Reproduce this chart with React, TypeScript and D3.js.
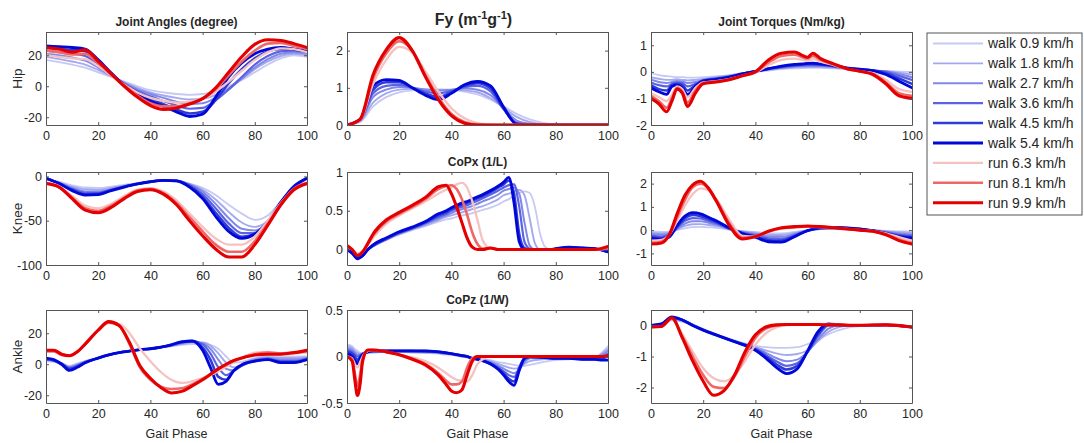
import { useRef, useEffect } from 'react';
import * as d3 from 'd3';

// series order: walk 0.9 .. 5.4, run 6.3 .. 9.9
const seriesLabels = [
  'walk 0.9 km/h',
  'walk 1.8 km/h',
  'walk 2.7 km/h',
  'walk 3.6 km/h',
  'walk 4.5 km/h',
  'walk 5.4 km/h',
  'run 6.3 km/h',
  'run 8.1 km/h',
  'run 9.9 km/h',
];
const seriesColors = ['#c6c9f3', '#a4a9ee', '#8088e8', '#5b63e2', '#2f3ad9', '#0008d8', '#f5c2c2', '#ee6868', '#e40000'];
const seriesWidths = [1.8, 1.9, 2, 2.2, 2.5, 2.8, 2.3, 2.6, 3.1];

const xTicks = [0, 20, 40, 60, 80, 100];

// Hip joint angle (degree)
const hipAngleX = [0, 5, 10, 15, 20, 25, 30, 35, 40, 45, 50, 55, 60, 65, 70, 75, 80, 85, 90, 95, 100];
const hipAngleY = [
  [17, 15.5, 14, 12, 9, 6, 3, 0, -2.5, -4, -5, -5.5, -5, -3, 0, 4, 9, 14, 18, 20, 19],
  [19, 17.5, 16, 14, 10.5, 6.5, 2.5, -1, -4, -6, -7.5, -8.5, -8, -5.5, -1, 4.5, 11, 16, 19.5, 21, 20],
  [21, 20, 18.5, 16.5, 12, 7, 2, -2, -5, -7.5, -10, -11.5, -11, -7.5, -2, 5, 12, 17.5, 21, 22, 21],
  [23, 22, 21, 19.5, 14, 7.5, 1.5, -3, -6.5, -9.5, -12.5, -14.5, -14, -9, -2, 6, 14, 19.5, 22.5, 23, 22],
  [25, 24, 23.5, 22.5, 16, 8, 1, -4, -8, -11.5, -15, -17.5, -16.5, -9, 2, 11, 18, 22.5, 24, 24, 22.5],
  [26, 25.5, 25, 24, 17, 8.5, 0.5, -5, -9.5, -13, -16.5, -19.5, -18, -7, 6, 15, 21, 24, 25, 24, 22.5],
  [20, 19, 18, 17.5, 13, 7, 1, -4, -7.5, -9.5, -10.5, -10, -8, -3.5, 3, 10, 17, 22, 24.5, 24, 22],
  [23, 22, 20.5, 21, 15, 7.5, 0.5, -6, -11, -13, -13, -11, -8, -2, 7, 16, 23, 27.5, 28, 26, 24],
  [25, 24, 22, 23.5, 16, 8, 0, -7, -12.5, -15, -14, -11.5, -8, -1, 9, 19, 27, 30, 29.5, 27.5, 25],
];

// Vertical ground reaction force Fy
const fyX = [0, 5, 10, 15, 20, 25, 30, 35, 40, 45, 50, 55, 60, 65, 70, 75, 80, 85, 90, 95, 100];
const fyY = [
  [0, 0.08, 0.5, 0.75, 0.88, 0.93, 0.95, 0.95, 0.94, 0.9, 0.82, 0.68, 0.5, 0.3, 0.15, 0.06, 0.02, 0, 0, 0, 0],
  [0, 0.1, 0.6, 0.85, 0.95, 0.97, 0.96, 0.95, 0.95, 0.93, 0.88, 0.72, 0.47, 0.22, 0.08, 0.02, 0, 0, 0, 0, 0],
  [0, 0.12, 0.75, 0.95, 1.02, 1.0, 0.95, 0.92, 0.95, 0.98, 0.95, 0.8, 0.45, 0.12, 0.03, 0, 0, 0, 0, 0, 0],
  [0, 0.13, 0.85, 1.05, 1.08, 1.0, 0.9, 0.85, 0.92, 1.02, 1.05, 0.9, 0.42, 0.06, 0.01, 0, 0, 0, 0, 0, 0],
  [0, 0.14, 0.95, 1.15, 1.15, 1.0, 0.85, 0.75, 0.88, 1.05, 1.12, 0.98, 0.45, 0.03, 0, 0, 0, 0, 0, 0, 0],
  [0, 0.15, 1.05, 1.22, 1.2, 1.0, 0.8, 0.68, 0.85, 1.08, 1.17, 1.05, 0.48, 0.02, 0, 0, 0, 0, 0, 0, 0],
  [0, 0.13, 1.1, 1.75, 2.1, 1.95, 1.45, 0.9, 0.45, 0.18, 0.05, 0.01, 0, 0, 0, 0, 0, 0, 0, 0, 0],
  [0, 0.14, 1.25, 1.92, 2.25, 2.0, 1.35, 0.75, 0.3, 0.08, 0.01, 0, 0, 0, 0, 0, 0, 0, 0, 0, 0],
  [0, 0.15, 1.35, 2.02, 2.35, 2.0, 1.3, 0.68, 0.25, 0.05, 0, 0, 0, 0, 0, 0, 0, 0, 0, 0, 0],
];

// Hip joint torque (Nm/kg)
const hipTorqueX = [0, 3, 6, 8, 10, 12, 14, 17, 20, 25, 30, 35, 40, 45, 50, 55, 58, 60, 62, 65, 70, 75, 80, 85, 90, 95, 100];
const hipTorqueY = [
  [-0.05, -0.12, -0.16, -0.18, -0.2, -0.2, -0.22, -0.22, -0.2, -0.17, -0.12, -0.05, 0.0, 0.05, 0.1, 0.13, 0.14, 0.15, 0.15, 0.15, 0.13, 0.1, 0.07, 0.05, 0.03, 0.01, 0.0],
  [-0.2, -0.26, -0.3, -0.3, -0.28, -0.3, -0.32, -0.3, -0.27, -0.2, -0.14, -0.05, 0.02, 0.08, 0.13, 0.17, 0.18, 0.18, 0.18, 0.18, 0.16, 0.1, 0.07, 0.05, 0.02, -0.03, -0.1],
  [-0.3, -0.38, -0.42, -0.38, -0.34, -0.36, -0.42, -0.38, -0.3, -0.23, -0.16, -0.06, 0.02, 0.1, 0.15, 0.2, 0.22, 0.22, 0.22, 0.22, 0.18, 0.12, 0.08, 0.05, 0.02, -0.08, -0.2],
  [-0.4, -0.5, -0.55, -0.45, -0.4, -0.42, -0.55, -0.45, -0.32, -0.25, -0.18, -0.07, 0.02, 0.1, 0.18, 0.22, 0.25, 0.26, 0.26, 0.25, 0.2, 0.13, 0.08, 0.05, 0, -0.15, -0.3],
  [-0.5, -0.65, -0.7, -0.5, -0.45, -0.5, -0.7, -0.5, -0.33, -0.27, -0.2, -0.08, 0.02, 0.12, 0.2, 0.26, 0.28, 0.3, 0.3, 0.28, 0.22, 0.14, 0.1, 0.05, -0.05, -0.25, -0.45],
  [-0.6, -0.75, -0.85, -0.55, -0.5, -0.6, -0.85, -0.55, -0.35, -0.28, -0.2, -0.08, 0.02, 0.12, 0.22, 0.28, 0.3, 0.32, 0.33, 0.3, 0.25, 0.15, 0.1, 0.05, -0.1, -0.35, -0.6],
  [-0.8, -0.95, -1.1, -0.85, -0.55, -0.65, -0.95, -0.6, -0.4, -0.35, -0.27, -0.15, -0.02, 0.25, 0.45, 0.5, 0.45, 0.42, 0.48, 0.38, 0.25, 0.1, 0.02, -0.05, -0.3, -0.65, -0.75],
  [-0.9, -1.1, -1.35, -1.0, -0.6, -0.75, -1.15, -0.7, -0.42, -0.36, -0.28, -0.15, 0.0, 0.35, 0.6, 0.65, 0.55, 0.5, 0.6, 0.45, 0.28, 0.12, 0.02, -0.08, -0.4, -0.8, -0.9],
  [-1.0, -1.2, -1.5, -1.1, -0.65, -0.8, -1.3, -0.8, -0.45, -0.38, -0.3, -0.15, 0.0, 0.45, 0.7, 0.75, 0.62, 0.55, 0.7, 0.5, 0.3, 0.12, 0.02, -0.1, -0.45, -0.9, -1.0],
];

// Knee joint angle (degree)
const kneeAngleX = [0, 5, 10, 15, 20, 25, 30, 35, 40, 45, 50, 55, 60, 65, 70, 75, 80, 85, 90, 95, 100];
const kneeAngleY = [
  [-3, -6, -10, -12.5, -13, -11.5, -9.5, -7.5, -6, -5, -5.5, -8, -13, -21, -32, -42, -49, -44, -28, -12, -3],
  [-3, -7, -11.5, -14.5, -15, -13, -10.5, -8, -6, -5, -5.5, -8.5, -15, -26, -40, -52, -57, -50, -32, -13, -3],
  [-2.5, -7, -13, -17, -17, -14.5, -11, -8.5, -6, -4.5, -5, -9, -17, -31, -47, -59, -61, -52, -32, -13, -2.5],
  [-2, -7.5, -14, -18.5, -18.5, -15, -11.5, -8.5, -6, -4.5, -5, -10, -20, -36, -53, -64, -64, -53, -31, -12, -2],
  [-2, -8, -15, -20, -19.5, -15.5, -11.5, -8.5, -6, -4.5, -5, -11, -23, -41, -58, -68, -65, -52, -30, -12, -2],
  [-2, -8, -16, -21, -20.5, -16, -12, -8.5, -6, -4.5, -5, -12, -25, -45, -62, -70, -65, -51, -29, -11, -2],
  [-7, -11, -22, -33, -36, -31, -22, -15, -13.5, -17, -27, -42, -57, -70, -77, -77, -68, -50, -30, -14, -7],
  [-7.5, -12, -24, -36, -39, -33, -24, -16, -14, -19, -30, -46, -62, -77, -85, -85, -73, -53, -31, -14, -7.5],
  [-8, -12, -25, -38, -41, -35, -25, -17, -15, -20, -32, -50, -67, -82, -91, -91, -77, -55, -32, -15, -8],
];

// Centre of pressure, anterior-posterior (1/L)
const copxX = [0, 2, 4, 6, 8, 10, 15, 20, 25, 30, 35, 38, 40, 42, 44, 46, 48, 50, 52, 55, 58, 60, 62, 64, 66, 68, 70, 72, 74, 76, 78, 80, 85, 90, 95, 100];
const copxY = [
  [0.03, 0.0, -0.06, -0.04, 0.0, 0.04, 0.12, 0.19, 0.25, 0.3, 0.36, 0.39, 0.4, 0.42, 0.44, 0.45, 0.47, 0.49, 0.51, 0.54, 0.58, 0.62, 0.65, 0.7, 0.73, 0.75, 0.73, 0.55, 0.2, 0.03, 0, 0, 0.01, 0.01, 0, -0.01],
  [0.02, -0.01, -0.08, -0.05, 0.0, 0.04, 0.13, 0.2, 0.26, 0.31, 0.38, 0.42, 0.44, 0.46, 0.48, 0.5, 0.52, 0.54, 0.56, 0.6, 0.65, 0.7, 0.72, 0.75, 0.77, 0.7, 0.4, 0.08, 0, 0, 0, 0, 0.01, 0.02, 0.01, -0.02],
  [0.01, -0.02, -0.09, -0.06, 0.0, 0.05, 0.13, 0.21, 0.27, 0.33, 0.4, 0.44, 0.47, 0.5, 0.52, 0.54, 0.56, 0.59, 0.62, 0.66, 0.71, 0.76, 0.78, 0.8, 0.72, 0.35, 0.05, 0, 0, 0, 0, 0.01, 0.02, 0.02, 0.01, -0.02],
  [0, -0.03, -0.1, -0.07, 0.0, 0.05, 0.13, 0.21, 0.27, 0.34, 0.42, 0.46, 0.5, 0.53, 0.55, 0.57, 0.6, 0.63, 0.66, 0.71, 0.76, 0.8, 0.83, 0.84, 0.55, 0.1, 0.01, 0, 0, 0, 0, 0.01, 0.02, 0.02, 0.01, -0.03],
  [0, -0.04, -0.11, -0.08, 0.0, 0.05, 0.14, 0.22, 0.28, 0.35, 0.44, 0.48, 0.52, 0.55, 0.58, 0.6, 0.63, 0.66, 0.69, 0.74, 0.8, 0.84, 0.89, 0.72, 0.2, 0.02, 0, 0, 0, 0, 0, 0.01, 0.03, 0.02, 0.01, -0.03],
  [0, -0.05, -0.12, -0.08, 0.0, 0.06, 0.15, 0.23, 0.29, 0.36, 0.46, 0.5, 0.54, 0.57, 0.6, 0.62, 0.65, 0.68, 0.71, 0.76, 0.82, 0.87, 0.93, 0.6, 0.1, 0.0, 0, 0, 0, 0, 0, 0.01, 0.03, 0.02, 0.01, -0.03],
  [0.03, 0.0, -0.05, -0.02, 0.06, 0.15, 0.33, 0.44, 0.53, 0.62, 0.72, 0.77, 0.8, 0.84, 0.86, 0.8, 0.62, 0.38, 0.12, 0.01, 0, 0, 0, 0, 0, 0, 0, 0, 0, 0, 0, 0, 0, 0, 0, 0.01],
  [0.04, 0.0, -0.07, -0.03, 0.07, 0.18, 0.36, 0.46, 0.55, 0.65, 0.78, 0.82, 0.83, 0.78, 0.65, 0.45, 0.22, 0.07, 0.01, 0.02, 0, 0, 0, 0, 0, 0, 0, 0, 0, 0, 0, 0, 0, 0, 0, 0.02],
  [0.05, 0.0, -0.08, -0.03, 0.08, 0.2, 0.38, 0.48, 0.57, 0.67, 0.81, 0.83, 0.72, 0.55, 0.35, 0.15, 0.03, 0, 0, 0.02, 0, 0, 0, 0, 0, 0, 0, 0, 0, 0, 0, 0, 0, 0, 0, 0.04],
];

// Knee joint torque (Nm/kg)
const kneeTorqueX = [0, 4, 7, 10, 13, 16, 19, 22, 25, 30, 35, 40, 45, 50, 55, 60, 65, 70, 75, 80, 85, 90, 95, 100];
const kneeTorqueY = [
  [-0.06, -0.08, -0.06, 0.0, 0.08, 0.13, 0.14, 0.12, 0.1, 0.02, -0.04, -0.08, -0.13, -0.14, -0.08, 0.0, 0.04, 0.05, 0.04, 0.02, 0, -0.03, -0.05, -0.06],
  [-0.12, -0.14, -0.1, 0.03, 0.18, 0.25, 0.26, 0.22, 0.17, 0.04, -0.06, -0.12, -0.2, -0.21, -0.12, -0.01, 0.05, 0.06, 0.05, 0.03, -0.01, -0.05, -0.09, -0.12],
  [-0.18, -0.2, -0.15, 0.05, 0.28, 0.38, 0.38, 0.32, 0.24, 0.05, -0.08, -0.17, -0.27, -0.29, -0.17, -0.02, 0.06, 0.08, 0.07, 0.04, -0.01, -0.07, -0.14, -0.18],
  [-0.25, -0.28, -0.2, 0.1, 0.4, 0.52, 0.5, 0.4, 0.3, 0.06, -0.1, -0.22, -0.35, -0.37, -0.22, -0.02, 0.08, 0.1, 0.08, 0.04, -0.02, -0.1, -0.2, -0.25],
  [-0.3, -0.35, -0.25, 0.15, 0.5, 0.65, 0.6, 0.48, 0.35, 0.08, -0.13, -0.27, -0.43, -0.45, -0.26, -0.02, 0.09, 0.11, 0.09, 0.05, -0.02, -0.13, -0.24, -0.3],
  [-0.35, -0.4, -0.3, 0.2, 0.6, 0.75, 0.7, 0.55, 0.4, 0.1, -0.15, -0.3, -0.5, -0.52, -0.28, -0.02, 0.1, 0.12, 0.1, 0.05, -0.03, -0.15, -0.28, -0.35],
  [-0.45, -0.42, -0.2, 0.4, 1.05, 1.55, 1.8, 1.7, 1.35, 0.45, -0.25, -0.28, -0.08, 0.06, 0.11, 0.14, 0.13, 0.1, 0.05, 0, -0.04, -0.14, -0.3, -0.45],
  [-0.55, -0.5, -0.2, 0.55, 1.3, 1.85, 2.0, 1.8, 1.3, 0.3, -0.33, -0.28, -0.05, 0.08, 0.13, 0.16, 0.14, 0.1, 0.05, 0, -0.05, -0.18, -0.4, -0.55],
  [-0.6, -0.55, -0.2, 0.7, 1.5, 1.95, 2.1, 1.8, 1.25, 0.2, -0.38, -0.28, -0.05, 0.1, 0.15, 0.18, 0.15, 0.1, 0.05, 0, -0.05, -0.2, -0.45, -0.6],
];

// Ankle joint angle (degree)
const ankleAngleX = [0, 3, 6, 9, 12, 15, 20, 24, 28, 32, 36, 40, 44, 48, 52, 56, 60, 63, 66, 69, 72, 76, 80, 85, 90, 95, 100];
const ankleAngleY = [
  [2, 1.5, 0.5, -1, 0.5, 2, 4, 6, 7.5, 8.5, 9.5, 10, 11, 11.5, 12.5, 13, 13, 12.5, 10, 5, 1, 2, 4, 5, 5, 5, 5],
  [2.5, 2, 0.5, -1.5, 0, 2, 4, 6, 7.5, 8.5, 9.5, 10, 11, 12, 13, 14, 14, 12, 7, 1, -2, 1, 3.5, 4.5, 4, 4, 4.5],
  [3, 2, 0.5, -2, -0.5, 1.5, 4, 6, 7.5, 8.5, 9.5, 10, 11, 12, 13.5, 14.5, 13.5, 10, 3, -3, -4, 0.5, 3, 4, 3, 3, 4],
  [3, 2.5, 0.5, -2.5, -1, 1.5, 4, 6, 7.5, 8.5, 9.5, 10, 11, 12.5, 14, 15, 13, 7, -2, -7, -4, 0.5, 2.5, 3.5, 2, 2, 3.5],
  [3.5, 2.5, 0, -3, -1.5, 1, 4, 6, 7.5, 8.5, 9.5, 10, 11, 12.5, 14.5, 15, 11, 3, -8, -10, -4, 0, 2, 3, 1.5, 1.5, 3],
  [4, 3, 0, -4, -2, 1, 4, 6, 7.5, 8.5, 9.5, 10, 11, 12.5, 14.5, 15, 9, -2, -13, -11, -4, 0.5, 2, 3, 1, 1, 3],
  [8, 8, 6, 5.5, 8, 13, 21.5, 26.5, 26, 20, 10, 2, -5, -10, -12, -11, -9, -7, -4.5, -1.5, 1.5, 5, 7.5, 8, 7, 7, 7.5],
  [8.5, 8.5, 6, 5.5, 8, 13, 22, 27, 25, 13, -2, -10, -14.5, -16, -15.5, -13, -9.5, -6.5, -3, -0.5, 2, 4.5, 6.5, 7.5, 7, 7.5, 8.5],
  [9, 9, 6.5, 5.5, 8, 13, 22, 27.5, 25, 14, -1, -9, -15, -18.5, -17.5, -14, -10, -6.5, -3, 0, 2.5, 4.5, 6, 6.5, 6.5, 7.5, 9],
];

// Centre of pressure, medio-lateral (1/W)
const copzX = [0, 2, 3, 4, 5, 6, 8, 10, 15, 20, 25, 30, 35, 38, 40, 42, 44, 46, 48, 50, 55, 58, 60, 62, 64, 66, 68, 70, 75, 80, 85, 90, 95, 98, 100];
const copzY = [
  [0.13, 0.11, 0.08, 0.06, 0.04, 0.03, 0.04, 0.04, 0.05, 0.05, 0.04, 0.04, 0.03, 0.02, 0.02, 0.01, 0.0, -0.01, -0.02, -0.03, -0.04, -0.06, -0.07, -0.08, -0.09, -0.1, -0.1, -0.09, -0.06, -0.04, -0.03, -0.02, -0.01, 0.05, 0.11],
  [0.11, 0.09, 0.06, 0.04, 0.03, 0.03, 0.04, 0.05, 0.05, 0.05, 0.05, 0.04, 0.04, 0.03, 0.02, 0.01, 0.0, -0.01, -0.02, -0.03, -0.05, -0.08, -0.1, -0.12, -0.13, -0.12, -0.08, -0.05, -0.03, -0.02, -0.02, -0.02, -0.01, 0.04, 0.08],
  [0.09, 0.07, 0.04, 0.02, 0.02, 0.03, 0.05, 0.05, 0.06, 0.06, 0.05, 0.05, 0.04, 0.03, 0.03, 0.02, 0.01, 0.0, -0.02, -0.03, -0.06, -0.1, -0.13, -0.16, -0.18, -0.14, -0.06, -0.02, -0.01, -0.02, -0.02, -0.02, -0.01, 0.02, 0.06],
  [0.07, 0.05, 0.02, 0.0, 0.01, 0.03, 0.05, 0.06, 0.06, 0.06, 0.06, 0.05, 0.05, 0.04, 0.03, 0.02, 0.01, 0.0, -0.02, -0.03, -0.07, -0.12, -0.16, -0.2, -0.22, -0.13, -0.03, -0.01, -0.01, -0.02, -0.02, -0.02, -0.02, 0.0, 0.03],
  [0.05, 0.03, 0.0, -0.04, 0.0, 0.03, 0.05, 0.06, 0.06, 0.06, 0.06, 0.06, 0.05, 0.04, 0.03, 0.02, 0.01, 0.0, -0.02, -0.03, -0.08, -0.13, -0.18, -0.24, -0.27, -0.12, -0.02, 0.0, -0.01, -0.02, -0.02, -0.03, -0.03, -0.02, 0.0],
  [0.03, 0.0, -0.04, -0.08, -0.02, 0.02, 0.05, 0.06, 0.06, 0.06, 0.06, 0.06, 0.05, 0.04, 0.03, 0.02, 0.01, 0.0, -0.02, -0.03, -0.08, -0.14, -0.2, -0.27, -0.31, -0.15, -0.02, 0.0, -0.01, -0.02, -0.02, -0.03, -0.03, -0.04, -0.04],
  [0.0, -0.02, -0.08, -0.12, -0.06, 0.0, 0.06, 0.07, 0.05, 0.02, -0.01, -0.05, -0.12, -0.18, -0.22, -0.25, -0.26, -0.27, -0.2, -0.08, 0, 0, 0, 0, 0, 0, 0, 0, 0, 0, 0, 0, 0, 0, 0.01],
  [0.0, -0.03, -0.18, -0.32, -0.2, -0.02, 0.07, 0.07, 0.05, 0.02, -0.02, -0.08, -0.18, -0.26, -0.3, -0.3, -0.27, -0.12, -0.02, 0.0, 0, 0, 0, 0, 0, 0, 0, 0, 0, 0, 0, 0, 0, 0, 0.01],
  [0.0, -0.05, -0.25, -0.42, -0.3, -0.05, 0.07, 0.07, 0.05, 0.02, -0.03, -0.09, -0.2, -0.3, -0.37, -0.39, -0.36, -0.2, -0.05, 0.0, 0, 0, 0, 0, 0, 0, 0, 0, 0, 0, 0, 0, 0, 0, 0.01],
];

// Ankle joint torque (Nm/kg)
const ankleTorqueX = [0, 4, 8, 12, 16, 20, 24, 28, 32, 36, 40, 44, 48, 52, 56, 60, 64, 68, 72, 76, 80, 90, 100];
const ankleTorqueY = [
  [0.0, 0.04, 0.17, 0.12, 0.02, -0.12, -0.25, -0.37, -0.48, -0.58, -0.66, -0.7, -0.72, -0.72, -0.7, -0.6, -0.45, -0.28, -0.15, -0.06, -0.02, 0.0, -0.05],
  [0.0, 0.05, 0.2, 0.15, 0.03, -0.12, -0.25, -0.38, -0.5, -0.6, -0.7, -0.8, -0.9, -0.95, -0.92, -0.8, -0.5, -0.2, -0.05, 0.0, 0.0, 0.02, -0.05],
  [0.0, 0.05, 0.22, 0.17, 0.03, -0.13, -0.26, -0.39, -0.51, -0.61, -0.72, -0.88, -1.05, -1.15, -1.1, -0.85, -0.45, -0.1, 0.0, 0.0, 0.0, 0.02, -0.05],
  [0.0, 0.05, 0.24, 0.18, 0.02, -0.14, -0.27, -0.4, -0.52, -0.62, -0.75, -0.95, -1.15, -1.3, -1.22, -0.85, -0.35, 0.0, 0.02, 0.0, 0.0, 0.02, -0.05],
  [0.0, 0.05, 0.26, 0.18, 0.0, -0.15, -0.28, -0.4, -0.52, -0.63, -0.78, -1.0, -1.25, -1.42, -1.3, -0.85, -0.28, 0.03, 0.02, 0.0, 0.0, 0.02, -0.05],
  [0.0, 0.05, 0.28, 0.18, 0.0, -0.15, -0.28, -0.4, -0.52, -0.64, -0.8, -1.05, -1.35, -1.55, -1.4, -0.82, -0.2, 0.05, 0.02, 0.0, 0.0, 0.02, -0.05],
  [-0.05, -0.03, 0.2, -0.28, -0.85, -1.38, -1.7, -1.8, -1.6, -1.15, -0.62, -0.25, -0.06, 0.01, 0.02, 0.03, 0.03, 0.02, 0.02, 0.01, 0.01, 0.02, -0.05],
  [-0.05, -0.03, 0.22, -0.35, -1.0, -1.6, -1.98, -2.02, -1.65, -1.0, -0.4, -0.1, 0.0, 0.03, 0.03, 0.03, 0.03, 0.02, 0.02, 0.01, 0.01, 0.02, -0.05],
  [-0.05, -0.03, 0.25, -0.4, -1.15, -1.8, -2.25, -2.1, -1.6, -0.85, -0.3, -0.05, 0.02, 0.03, 0.03, 0.03, 0.03, 0.02, 0.02, 0.01, 0.01, 0.02, -0.05],
];

interface Panel {
  col: number;
  row: number;
  xs: number[];
  ys: number[][];
  yDomain: [number, number];
  yTicks: number[];
  title?: string;
  rowLabel?: string;
}

const panels: Panel[] = [
  { col: 0, row: 0, xs: hipAngleX, ys: hipAngleY, yDomain: [-25, 35], yTicks: [-20, 0, 20], title: 'Joint Angles (degree)', rowLabel: 'Hip' },
  { col: 1, row: 0, xs: fyX, ys: fyY, yDomain: [0, 2.5], yTicks: [0, 1, 2] },
  { col: 2, row: 0, xs: hipTorqueX, ys: hipTorqueY, yDomain: [-2, 1.5], yTicks: [-2, -1, 0, 1], title: 'Joint Torques (Nm/kg)' },
  { col: 0, row: 1, xs: kneeAngleX, ys: kneeAngleY, yDomain: [-100, 5], yTicks: [-100, -50, 0], rowLabel: 'Knee' },
  { col: 1, row: 1, xs: copxX, ys: copxY, yDomain: [-0.2, 1], yTicks: [0, 0.5, 1], title: 'CoPx (1/L)' },
  { col: 2, row: 1, xs: kneeTorqueX, ys: kneeTorqueY, yDomain: [-1.5, 2.5], yTicks: [-1, 0, 1, 2] },
  { col: 0, row: 2, xs: ankleAngleX, ys: ankleAngleY, yDomain: [-25, 35], yTicks: [-20, 0, 20], rowLabel: 'Ankle' },
  { col: 1, row: 2, xs: copzX, ys: copzY, yDomain: [-0.5, 0.5], yTicks: [-0.5, 0, 0.5], title: 'CoPz (1/W)' },
  { col: 2, row: 2, xs: ankleTorqueX, ys: ankleTorqueY, yDomain: [-2.5, 0.5], yTicks: [-2, -1, 0] },
];

const colLeft = [46, 347, 651];
const rowTop = [32, 172, 310];
const panelW = 261;
const panelH = 93;
const font = "Arial, 'Liberation Sans', Helvetica, sans-serif";
const axisColor = '#555';
const textColor = '#262626';

export default function App() {
  const svgRef = useRef<SVGSVGElement>(null);

  useEffect(() => {
    if (!svgRef.current) return;
    const svg = d3.select(svgRef.current);
    svg.selectAll('*').remove();
    svg.attr('font-family', font);

    svg.append('rect').attr('width', 1084).attr('height', 443).attr('fill', '#fff');

    const styleAxis = (sel: d3.Selection<SVGGElement, unknown, null, undefined>) => {
      sel.attr('font-family', font).attr('font-size', 12.5);
      sel.selectAll('.domain').attr('stroke', axisColor);
      sel.selectAll('.tick line').attr('stroke', axisColor);
      sel.selectAll('.tick text').attr('fill', textColor);
    };

    panels.forEach((p, pi) => {
      const x0 = colLeft[p.col];
      const y0 = rowTop[p.row];
      const x = d3.scaleLinear().domain([0, 100]).range([0, panelW]);
      const y = d3.scaleLinear().domain(p.yDomain).range([panelH, 0]);
      const g = svg.append('g').attr('transform', `translate(${x0},${y0})`);

      g.append('clipPath')
        .attr('id', `clip-${pi}`)
        .append('rect')
        .attr('width', panelW)
        .attr('height', panelH);

      const plot = g.append('g').attr('clip-path', `url(#clip-${pi})`);
      p.ys.forEach((ys, si) => {
        const n = Math.min(ys.length, p.xs.length);
        const pts: [number, number][] = d3.range(n).map((i) => [p.xs[i], ys[i]]);
        const line = d3
          .line<[number, number]>()
          .x((d) => x(d[0]))
          .y((d) => y(d[1]))
          .curve(d3.curveMonotoneX);
        plot
          .append('path')
          .datum(pts)
          .attr('fill', 'none')
          .attr('stroke', seriesColors[si])
          .attr('stroke-width', seriesWidths[si])
          .attr('stroke-linejoin', 'round')
          .attr('stroke-linecap', 'round')
          .attr('d', line);
      });

      // box with inward ticks on all four sides
      const bottom = g
        .append('g')
        .attr('transform', `translate(0,${panelH})`)
        .call(d3.axisBottom(x).tickValues(xTicks).tickSize(-3).tickSizeOuter(0).tickPadding(6).tickFormat((d) => String(d)));
      styleAxis(bottom);
      const top = g.append('g').call(d3.axisTop(x).tickValues(xTicks).tickSize(-3).tickSizeOuter(0).tickFormat(() => ''));
      styleAxis(top);
      const left = g
        .append('g')
        .call(d3.axisLeft(y).tickValues(p.yTicks).tickSize(-3).tickSizeOuter(0).tickPadding(4).tickFormat((d) => String(d)));
      styleAxis(left);
      const right = g
        .append('g')
        .attr('transform', `translate(${panelW},0)`)
        .call(d3.axisRight(y).tickValues(p.yTicks).tickSize(-3).tickSizeOuter(0).tickFormat(() => ''));
      styleAxis(right);

      if (p.title) {
        g.append('text')
          .attr('x', panelW / 2)
          .attr('y', -6)
          .attr('text-anchor', 'middle')
          .attr('font-size', 12)
          .attr('font-weight', 'bold')
          .attr('fill', textColor)
          .text(p.title);
      }

      if (p.rowLabel) {
        g.append('text')
          .attr('transform', `translate(${17 - x0},${panelH / 2}) rotate(-90)`)
          .attr('text-anchor', 'middle')
          .attr('dy', '0.35em')
          .attr('font-size', 13.5)
          .attr('fill', textColor)
          .text(p.rowLabel);
      }

      if (p.row === 2) {
        g.append('text')
          .attr('x', panelW / 2)
          .attr('y', panelH + 35)
          .attr('text-anchor', 'middle')
          .attr('font-size', 12.5)
          .attr('fill', textColor)
          .text('Gait Phase');
      }
    });

    // Fy title with superscripts
    const fyTitle = svg
      .append('text')
      .attr('x', colLeft[1] + panelW / 2 - 4)
      .attr('y', rowTop[0] - 7)
      .attr('text-anchor', 'middle')
      .attr('font-size', 16)
      .attr('font-weight', 'bold')
      .attr('fill', textColor);
    fyTitle.append('tspan').text('Fy (m');
    fyTitle.append('tspan').attr('font-size', 11).attr('dy', -6).text('-1');
    fyTitle.append('tspan').attr('dy', 6).text('g');
    fyTitle.append('tspan').attr('font-size', 11).attr('dy', -6).text('-1');
    fyTitle.append('tspan').attr('dy', 6).text(')');

    // legend
    const legend = svg.append('g').attr('transform', 'translate(927,33)');
    legend
      .append('rect')
      .attr('width', 155)
      .attr('height', 182)
      .attr('fill', '#fff')
      .attr('stroke', axisColor)
      .attr('stroke-width', 1);
    seriesLabels.forEach((label, i) => {
      const row = legend.append('g').attr('transform', `translate(0,${10.5 + i * 19.9})`);
      row
        .append('line')
        .attr('x1', 6)
        .attr('x2', 56)
        .attr('stroke', seriesColors[i])
        .attr('stroke-width', seriesWidths[i]);
      row
        .append('text')
        .attr('x', 61)
        .attr('dy', '0.35em')
        .attr('font-size', 14)
        .attr('fill', textColor)
        .text(label);
    });
  }, []);

  return (
    <svg
      ref={svgRef}
      width={1084}
      height={443}
      viewBox="0 0 1084 443"
      style={{ position: 'absolute', left: 0, top: 0, display: 'block' }}
    />
  );
}
